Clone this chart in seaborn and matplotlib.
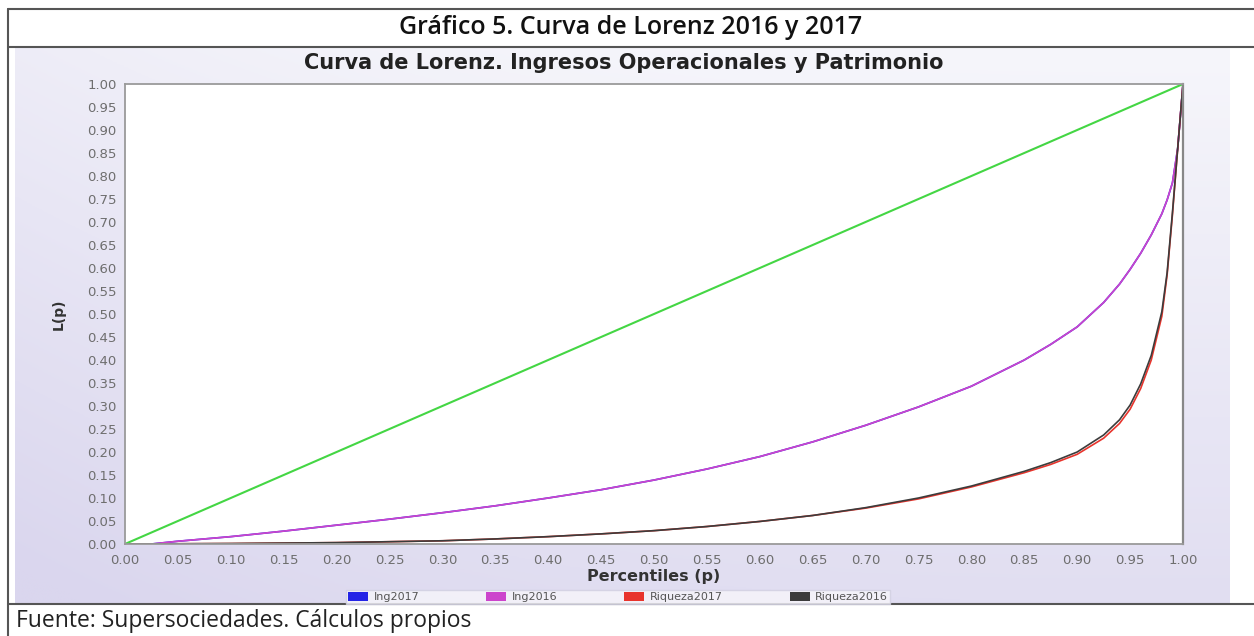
import numpy as np
import pandas as pd
import seaborn as sns
import matplotlib.pyplot as plt
from matplotlib.lines import Line2D
from matplotlib.patches import Patch

# percentiles (p) and Lorenz values L(p)
percentil = [0.0, 0.025, 0.05, 0.10, 0.15, 0.20, 0.25, 0.30, 0.35, 0.40, 0.45, 0.50,
             0.55, 0.60, 0.65, 0.70, 0.75, 0.80, 0.85, 0.875, 0.90, 0.925, 0.94,
             0.95, 0.96, 0.97, 0.98, 0.985, 0.99, 0.995, 1.0]
ing2017 = [0.0, 0.0, 0.006, 0.016, 0.028, 0.041, 0.054, 0.068, 0.083, 0.100, 0.118, 0.139,
           0.163, 0.190, 0.222, 0.258, 0.298, 0.343, 0.400, 0.434, 0.472, 0.525, 0.565,
           0.597, 0.632, 0.672, 0.718, 0.748, 0.785, 0.860, 1.0]
ing2016 = [0.0, 0.0, 0.006, 0.016, 0.028, 0.041, 0.054, 0.068, 0.083, 0.100, 0.118, 0.139,
           0.163, 0.190, 0.222, 0.258, 0.298, 0.343, 0.400, 0.434, 0.472, 0.525, 0.565,
           0.597, 0.632, 0.672, 0.718, 0.748, 0.785, 0.860, 1.0]
riqueza2017 = [0.0, 0.0, 0.0005, 0.001, 0.002, 0.003, 0.005, 0.007, 0.011, 0.016, 0.022, 0.029,
               0.038, 0.049, 0.062, 0.078, 0.098, 0.124, 0.155, 0.173, 0.195, 0.230, 0.262,
               0.293, 0.338, 0.400, 0.495, 0.585, 0.715, 0.860, 1.0]
riqueza2016 = [0.0, 0.0, 0.0005, 0.001, 0.002, 0.003, 0.005, 0.007, 0.011, 0.016, 0.022, 0.029,
               0.038, 0.049, 0.062, 0.079, 0.100, 0.126, 0.158, 0.177, 0.200, 0.237, 0.270,
               0.302, 0.348, 0.410, 0.505, 0.590, 0.720, 0.860, 1.0]
igualdad_p = [0.0, 1.0]
igualdad_l = [0.0, 1.0]

series = ["Ing2017", "Ing2016", "Riqueza2017", "Riqueza2016"]
colores = ["#2424e6", "#cc44cc", "#e8342c", "#3c3c3c"]
ticks = [i * 0.05 for i in range(21)]

sns.set_style("white")
plt.rcParams['font.family'] = ['DejaVu Sans']

rows = []
for name, vals in zip(series, [ing2017, ing2016, riqueza2017, riqueza2016]):
    for p, l in zip(percentil, vals):
        rows.append({"p": p, "L": l, "serie": name})
df = pd.DataFrame(rows)

fig = plt.figure(figsize=(12.54, 6.36), dpi=100)
fig.patch.set_facecolor("white")

# lavender gradient panel behind the chart
bg = fig.add_axes([15 / 1254, 1 - 603 / 636, 1215 / 1254, 555 / 636], zorder=0)
v = np.linspace(0, 1, 200)[:, None]
u = np.linspace(0, 1, 300)[None, :]
t = np.clip(0.75 * v + 0.3 * (1 - u) ** 3, 0, 1)
top = np.array([246, 246, 251]) / 255
bot = np.array([218, 214, 238]) / 255
grad = top[None, None, :] * (1 - t[..., None]) + bot[None, None, :] * t[..., None]
bg.imshow(grad, aspect="auto", extent=[0, 1, 0, 1])
bg.axis("off")

ax = fig.add_axes([125 / 1254, 1 - 544 / 636, 1058 / 1254, 460 / 636], zorder=1)
ax.set_facecolor("white")

sns.lineplot(data=df, x="p", y="L", hue="serie", hue_order=series,
             palette=dict(zip(series, colores)), estimator=None, sort=False,
             legend=False, linewidth=1.2, ax=ax)
sns.lineplot(x=igualdad_p, y=igualdad_l, color="#44d644", linewidth=1.5, ax=ax)

ax.set_xlim(0, 1)
ax.set_ylim(0, 1)
ax.set_xticks(ticks)
ax.set_yticks(ticks)
ax.set_xticklabels(["%.2f" % x for x in ticks])
ax.set_yticklabels(["%.2f" % x for x in ticks])
ax.tick_params(axis="x", direction="inout", length=4, width=1, color="#555555",
               labelsize=9.5, labelcolor="#6e6e6e", pad=5)
ax.tick_params(axis="y", direction="out", length=5, width=1, color="#666666",
               labelsize=9.5, labelcolor="#6e6e6e", pad=1)
for s in ["left", "bottom", "top"]:
    ax.spines[s].set_color("#9a9a9a")
    ax.spines[s].set_linewidth(1.3)
ax.spines["right"].set_color("#888888")
ax.spines["right"].set_linewidth(1.6)

ax.set_xlabel("Percentiles (p)", fontsize=11.5, fontweight="bold", color="#333333", labelpad=2)
ax.set_ylabel("L(p)", fontsize=10, fontweight="bold", color="#333333")
ax.yaxis.set_label_coords(-0.056, 0.5)

fig.text(624 / 1254, 1 - 63 / 636, "Curva de Lorenz. Ingresos Operacionales y Patrimonio",
         ha="center", va="center", fontsize=15, fontweight="bold", color="#222222")
fig.text(631 / 1254, 1 - 28 / 636, "Gráfico 5. Curva de Lorenz 2016 y 2017",
         ha="center", va="center", fontsize=18, fontweight="semibold", color="#111111",
         family=["Open Sans", "DejaVu Sans"])
fig.text(16 / 1254, 1 - 621 / 636, "Fuente: Supersociedades. Cálculos propios",
         ha="left", va="center", fontsize=16.5, color="#222222",
         family=["Open Sans", "DejaVu Sans"])

handles = [Patch(facecolor=c, edgecolor="none") for c in colores]
fig.legend(handles, series, loc="center", bbox_to_anchor=(0.493, 1 - 597 / 636),
           ncol=4, fontsize=8, frameon=True, fancybox=False, handlelength=1.8,
           handleheight=0.9, handletextpad=0.5, columnspacing=6, borderpad=0.2,
           edgecolor="#d0cfe0", facecolor="#f7f6fb", labelcolor="#555555")

# table frame around the chart
frame = dict(transform=fig.transFigure, color="#555555", linewidth=1.5)
fig.add_artist(Line2D([8 / 1254, 1.0], [1 - 9 / 636, 1 - 9 / 636], **frame))
fig.add_artist(Line2D([8 / 1254, 1.0], [1 - 47 / 636, 1 - 47 / 636], **frame))
fig.add_artist(Line2D([8 / 1254, 1.0], [1 - 604 / 636, 1 - 604 / 636], **frame))
fig.add_artist(Line2D([8 / 1254, 8 / 1254], [0.0, 1 - 9 / 636], **frame))

plt.savefig("out.png", dpi=100)
